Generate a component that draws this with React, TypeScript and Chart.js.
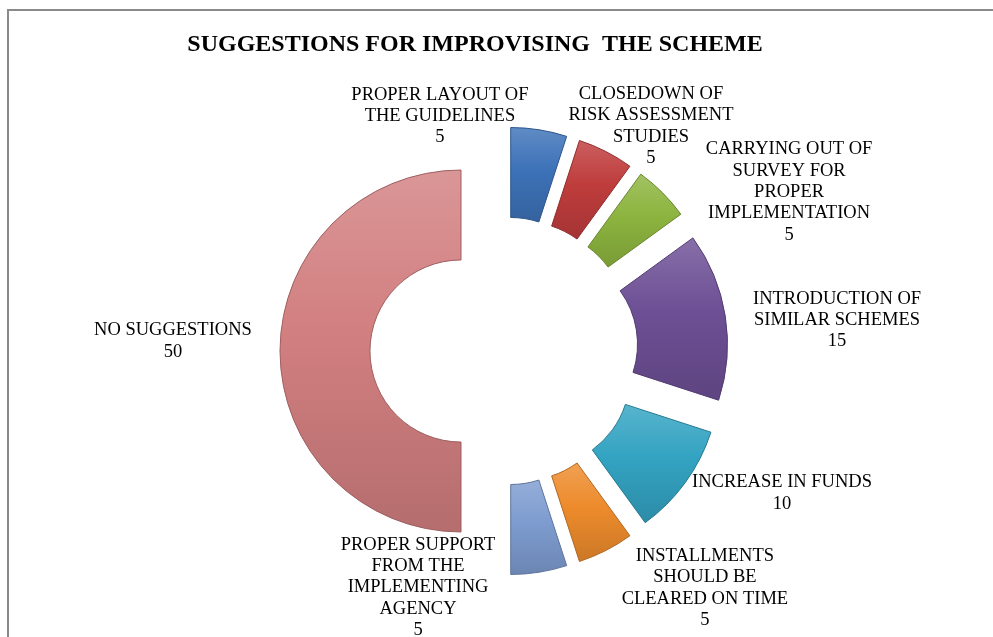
import React, { useEffect, useRef } from "react";
import { Chart, registerables } from "chart.js";

Chart.register(...registerables);

const TITLE = "SUGGESTIONS FOR IMPROVISING  THE SCHEME";

const categories: string[][] = [
  ["PROPER LAYOUT OF", "THE GUIDELINES"],
  ["CLOSEDOWN OF", "RISK ASSESSMENT", "STUDIES"],
  ["CARRYING OUT OF", "SURVEY FOR", "PROPER", "IMPLEMENTATION"],
  ["INTRODUCTION OF", "SIMILAR SCHEMES"],
  ["INCREASE IN FUNDS"],
  ["INSTALLMENTS", "SHOULD BE", "CLEARED ON TIME"],
  ["PROPER SUPPORT", "FROM THE", "IMPLEMENTING", "AGENCY"],
  ["NO SUGGESTIONS"],
];

const values: number[] = [5, 5, 5, 15, 10, 5, 5, 50];

const colors: string[] = [
  "#3d72b8",
  "#bf3c3c",
  "#8db43f",
  "#6d4f95",
  "#33a3c2",
  "#ed8b2c",
  "#7e9cd0",
  "#d27f80",
];

// label block centre, relative to the doughnut centre, in units of the outer radius
const labelPlacement: [number, number][] = [
  [-0.354, -1.298],
  [0.812, -1.243],
  [1.575, -0.878],
  [1.84, -0.171],
  [1.536, 0.785],
  [1.11, 1.31],
  [-0.475, 1.307],
  [-1.829, -0.055],
];

const OUTER_R = 181;
const EXPLODE = 43;
const CUTOUT = "50.3%";
const FONT = "'Liberation Serif', 'Times New Roman', serif";
const LINE_H = 21.3;

function shade(hex: string, amt: number): string {
  const n = parseInt(hex.slice(1), 16);
  let r = (n >> 16) & 255, g = (n >> 8) & 255, b = n & 255;
  if (amt >= 0) {
    r = r + (255 - r) * amt; g = g + (255 - g) * amt; b = b + (255 - b) * amt;
  } else {
    r = r * (1 + amt); g = g * (1 + amt); b = b * (1 + amt);
  }
  return `rgb(${Math.round(r)},${Math.round(g)},${Math.round(b)})`;
}

function arcAngles(i: number): [number, number] {
  const total = values.reduce((a, b) => a + b, 0);
  let cum = 0;
  for (let k = 0; k < i; k++) cum += values[k];
  const a0 = -Math.PI / 2 + (2 * Math.PI * cum) / total;
  const a1 = a0 + (2 * Math.PI * values[i]) / total;
  return [a0, a1];
}

const explodePlugin = {
  id: "explode",
  afterDatasetUpdate(chart: any, args: any) {
    const meta = chart.getDatasetMeta(args.index);
    meta.data.forEach((arc: any) => {
      const mid = (arc.startAngle + arc.endAngle) / 2;
      arc.x += Math.cos(mid) * EXPLODE;
      arc.y += Math.sin(mid) * EXPLODE;
    });
  },
};

const framePlugin = {
  id: "frame",
  beforeDraw(chart: any) {
    const ctx = chart.ctx;
    ctx.save();
    ctx.fillStyle = "#ffffff";
    ctx.fillRect(0, 0, chart.width, chart.height);
    ctx.strokeStyle = "#8a8a8a";
    ctx.lineWidth = 2;
    ctx.strokeRect(8, 10, chart.width + 20, chart.height + 20);
    ctx.restore();
  },
};

const labelsPlugin = {
  id: "sliceLabels",
  afterDraw(chart: any) {
    const ctx = chart.ctx;
    const meta = chart.getDatasetMeta(0);
    const area = chart.chartArea;
    const cx = (area.left + area.right) / 2;
    const cy = (area.top + area.bottom) / 2;
    const R = meta.data[0] ? meta.data[0].outerRadius : OUTER_R;
    ctx.save();
    // title
    ctx.fillStyle = "#000";
    ctx.textAlign = "center";
    ctx.textBaseline = "middle";
    ctx.font = `bold 24px ${FONT}`;
    ctx.fillText(TITLE, 475, 45);
    ctx.font = `18.5px ${FONT}`;
    categories.forEach((lines, i) => {
      const all = [...lines, String(values[i])];
      const [fx, fy] = labelPlacement[i];
      const x = cx + fx * R;
      const yc = cy + fy * R;
      const y0 = yc - ((all.length - 1) * LINE_H) / 2;
      all.forEach((t, j) => ctx.fillText(t, x, y0 + j * LINE_H));
    });
    ctx.restore();
  },
};

export default function App() {
  const ref = useRef<HTMLCanvasElement>(null);
  useEffect(() => {
    if (!ref.current) return;
    const chart = new Chart(ref.current, {
      type: "doughnut",
      data: {
        labels: categories.map((c) => c.join(" ")),
        datasets: [
          {
            data: values,
            borderWidth: 1,
            borderColor: colors.map((c) => shade(c, -0.25)),
            backgroundColor: (context: any) => {
              const i = context.dataIndex;
              const chart = context.chart;
              const area = chart.chartArea;
              if (!area || i === undefined) return colors[i ?? 0];
              const cx = (area.left + area.right) / 2;
              const cy = (area.top + area.bottom) / 2;
              const [a0, a1] = arcAngles(i);
              const mid = (a0 + a1) / 2;
              const oy = Math.sin(mid) * EXPLODE;
              let minY = Infinity, maxY = -Infinity;
              for (let s = 0; s <= 24; s++) {
                const a = a0 + ((a1 - a0) * s) / 24;
                for (const rr of [OUTER_R, OUTER_R * 0.503]) {
                  const y = cy + oy + Math.sin(a) * rr;
                  minY = Math.min(minY, y); maxY = Math.max(maxY, y);
                }
              }
              const g = chart.ctx.createLinearGradient(0, minY, 0, maxY);
              const c = colors[i];
              g.addColorStop(0, shade(c, 0.18));
              g.addColorStop(0.45, c);
              g.addColorStop(1, shade(c, -0.14));
              return g;
            },
          },
        ],
      },
      options: {
        responsive: false,
        animation: false,
        events: [],
        cutout: CUTOUT,
        radius: OUTER_R,
        layout: { padding: { left: 15, right: 0, top: 65, bottom: 0 } },
        plugins: {
          legend: { display: false },
          title: { display: false },
          tooltip: { enabled: false },
        },
      } as any,
      plugins: [framePlugin, explodePlugin, labelsPlugin],
    });
    return () => chart.destroy();
  }, []);
  return (
    <div style={{ position: "absolute", left: 0, top: 0, width: 993, height: 637 }}>
      <canvas ref={ref} width={993} height={637} />
    </div>
  );
}
